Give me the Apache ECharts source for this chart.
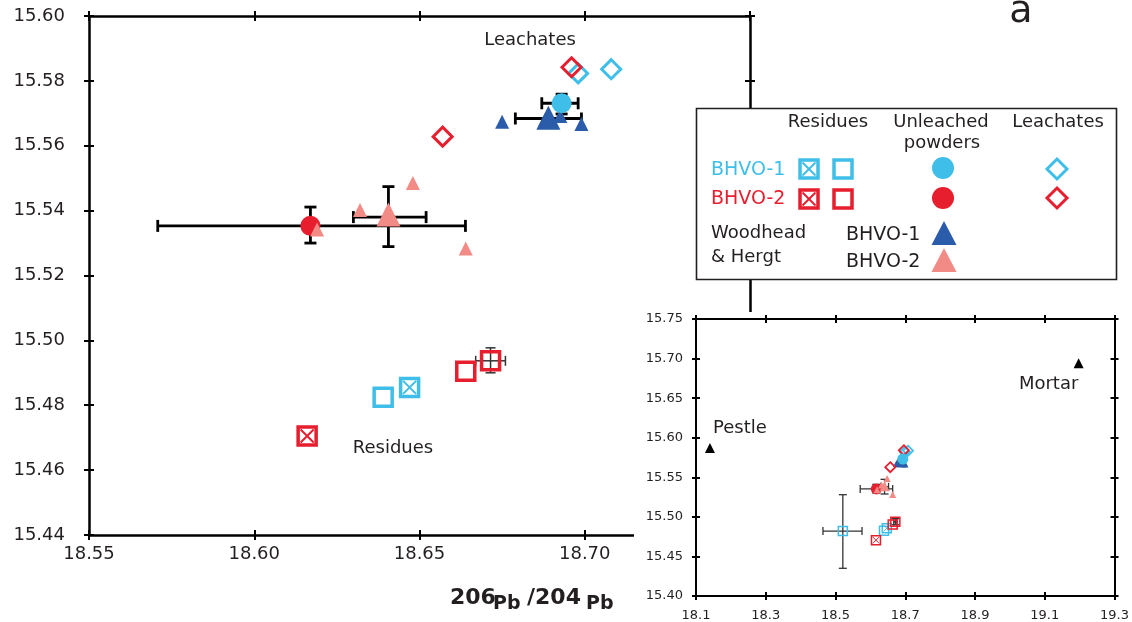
<!DOCTYPE html>
<html><head><meta charset="utf-8">
<script src="https://cdn.jsdelivr.net/npm/echarts@6/dist/echarts.min.js"></script>
<style>html,body{margin:0;padding:0;background:#fff}#c{width:1132px;height:622px}</style>
</head><body><div id="c"></div>
<script>
// ---------- data (x = 206Pb/204Pb, y = 207Pb/204Pb) ----------
const residuesBHVO1Crossed = [[18.647, 15.4855]];
const residuesBHVO1Open    = [[18.639, 15.4825], [18.521, 15.482]];
const residuesBHVO2Crossed = [[18.616, 15.4705]];
const residuesBHVO2Open    = [[18.664, 15.4905], [18.6715, 15.4937]];
const unleachedBHVO1 = [[18.693, 15.5731]];
const unleachedBHVO2 = [[18.617, 15.5353]];
const leachatesBHVO1 = [[18.698, 15.5823], [18.708, 15.5836]];
const leachatesBHVO2 = [[18.696, 15.5842], [18.657, 15.5628]];
const woodheadBHVO1      = [[18.675, 15.5674], [18.688, 15.5680], [18.6926, 15.5692], [18.699, 15.5667]];
const woodheadBHVO1Mean  = [[18.689, 15.5686]];
const woodheadBHVO2      = [[18.619, 15.5342], [18.632, 15.5402], [18.648, 15.5485], [18.664, 15.5283]];
const woodheadBHVO2Mean  = [[18.6406, 15.5388]];
const pestleMortar = [[18.140, 15.587, 'Pestle'], [19.197, 15.694, 'Mortar']];
// [x, y, xLow, xHigh, yLow, yHigh]
const errorBarsMeans = [
  [18.617, 15.5353, 18.5708, 18.6639, 15.5300, 15.5411],
  [18.693, 15.5731, 18.687, 18.698, 15.5698, 15.5759],
  [18.689, 15.5684, 18.679, 18.699, 15.5684, 15.5684],
  [18.6406, 15.5380, 18.630, 18.652, 15.5289, 15.5474]
];
const errorBarsResidues = [
  [18.6715, 15.4937, 18.667, 18.676, 15.4900, 15.4977],
  [18.521, 15.482, 18.464, 18.576, 15.435, 15.528]
];
const mainXTicks  = [18.55, 18.60, 18.65, 18.70, 18.75];
const mainYTicks  = [15.44, 15.46, 15.48, 15.50, 15.52, 15.54, 15.56, 15.58, 15.60];
const insetXTicks = [18.1, 18.3, 18.5, 18.7, 18.9, 19.1, 19.3];
const insetYTicks = [15.40, 15.45, 15.50, 15.55, 15.60, 15.65, 15.70, 15.75];

// ---------- styling ----------
const CYAN = '#3ebee8', RED = '#e61e2d', BLUE = '#2a5caa', PINK = '#f28a86';
const TXT = '#231f20', FONT = 'DejaVu Sans';

function axesFor(dim, grid, ticks, fmt, lw, tl, fs, margin, zl) {
  const pos = dim === 'x' ? ['bottom', 'top'] : ['left', 'right'];
  const min = ticks[0], max = ticks[ticks.length - 1];
  const out = [];
  pos.forEach((p, i) => {
    out.push({
      type: 'value', gridIndex: grid, min, max, position: p, zlevel: zl,
      splitLine: { show: false },
      axisLine: { show: true, onZero: false, lineStyle: { color: '#000', width: lw } },
      axisTick: { show: true, inside: false, length: tl, customValues: ticks, lineStyle: { color: '#000', width: 2 } },
      axisLabel: { show: i === 0, customValues: ticks, formatter: fmt, fontFamily: FONT, fontSize: fs, color: TXT, margin }
    });
    out.push({
      type: 'value', gridIndex: grid, min, max, position: p, zlevel: zl,
      splitLine: { show: false },
      axisLine: { show: false, onZero: false },
      axisTick: { show: true, inside: true, length: tl, customValues: ticks, lineStyle: { color: '#000', width: 2 } },
      axisLabel: { show: false }
    });
  });
  return out;
}

const xAxis = axesFor('x', 0, mainXTicks, v => v.toFixed(2), 2.5, 5, 18, 10, 0)
  .concat(axesFor('x', 1, insetXTicks, v => v.toFixed(1), 2, 4, 13, 13, 2));
const yAxis = axesFor('y', 0, mainYTicks, v => v.toFixed(2), 2.5, 5, 18, 24, 0)
  .concat(axesFor('y', 1, insetYTicks, v => v.toFixed(2), 2, 4, 13, 13, 2));

function L(x1, y1, x2, y2, st) { return { type: 'line', shape: { x1, y1, x2, y2 }, style: st }; }
function errSeries(data, g, lw, cap, color) {
  return {
    type: 'custom', xAxisIndex: g * 4, yAxisIndex: g * 4, zlevel: g ? 2 : 0, z: 1, clip: true, silent: true,
    data, encode: { x: 0, y: 1 },
    renderItem: (params, api) => {
      const y = api.value(1), x = api.value(0);
      const xlo = api.value(2), xhi = api.value(3), ylo = api.value(4), yhi = api.value(5);
      const st = { stroke: color, lineWidth: lw, fill: null };
      const ch = [];
      if (xlo !== xhi) {
        const a = api.coord([xlo, y]), b = api.coord([xhi, y]);
        ch.push(L(a[0], a[1], b[0], b[1], st), L(a[0], a[1] - cap, a[0], a[1] + cap, st), L(b[0], b[1] - cap, b[0], b[1] + cap, st));
      }
      if (ylo !== yhi) {
        const a = api.coord([x, ylo]), b = api.coord([x, yhi]);
        ch.push(L(a[0], a[1], b[0], b[1], st), L(a[0] - cap, a[1], a[0] + cap, a[1], st), L(b[0] - cap, b[1], b[0] + cap, b[1], st));
      }
      return { type: 'group', children: ch };
    }
  };
}

const X_PATH = 'path://M0,0L10,10M10,0L0,10';
const series = [];
[0, 1].forEach(g => {
  const m = g === 0;
  const S = o => {
    o.itemStyle = Object.assign({ opacity: 1 }, o.itemStyle);
    series.push(Object.assign({ type: 'scatter', xAxisIndex: g * 4, yAxisIndex: g * 4, zlevel: m ? 0 : 2, silent: true, clip: true }, o));
  };
  const sq = m ? 18 : 9, sqw = m ? 3.5 : 1.5, xs = m ? 13 : 6.5, xw = m ? 2 : 1;
  // error bars
  series.push(errSeries(m ? errorBarsMeans.filter(e => e[0] >= 18.55) : errorBarsMeans, g, m ? 2.8 : 1.3, m ? 6 : 4, m ? '#000' : '#333'));
  series.push(errSeries(m ? errorBarsResidues.filter(e => e[0] >= 18.55) : errorBarsResidues, g, m ? 1.5 : 1.3, m ? 5 : 4, '#333'));
  // residues
  const hollow = 'rgba(255,255,255,0)';
  S({ data: residuesBHVO1Open, symbol: 'rect', symbolSize: sq, z: 3, itemStyle: { color: hollow, borderColor: CYAN, borderWidth: sqw } });
  S({ data: residuesBHVO1Crossed, symbol: 'rect', symbolSize: sq, z: 3, itemStyle: { color: hollow, borderColor: CYAN, borderWidth: sqw } });
  S({ data: residuesBHVO1Crossed, symbol: X_PATH, symbolSize: xs, z: 3, itemStyle: { color: 'none', borderColor: CYAN, borderWidth: xw } });
  S({ data: residuesBHVO2Open, symbol: 'rect', symbolSize: sq, z: 4, itemStyle: { color: hollow, borderColor: RED, borderWidth: sqw } });
  S({ data: residuesBHVO2Crossed, symbol: 'rect', symbolSize: sq, z: 4, itemStyle: { color: hollow, borderColor: RED, borderWidth: sqw } });
  S({ data: residuesBHVO2Crossed, symbol: X_PATH, symbolSize: xs, z: 4, itemStyle: { color: 'none', borderColor: RED, borderWidth: xw } });
  // leachates
  S({ data: leachatesBHVO1, symbol: 'diamond', symbolSize: m ? 19 : 10, z: 3, itemStyle: { color: hollow, borderColor: CYAN, borderWidth: m ? 3 : 1.8 } });
  S({ data: leachatesBHVO2, symbol: 'diamond', symbolSize: m ? 19 : 10, z: 4, itemStyle: { color: hollow, borderColor: RED, borderWidth: m ? 3 : 1.8 } });
  // Woodhead & Hergt BHVO-1 and unleached BHVO-1
  S({ data: woodheadBHVO1, symbol: 'triangle', symbolSize: m ? 14 : 7, z: 3, itemStyle: { color: BLUE } });
  S({ data: woodheadBHVO1Mean, symbol: 'triangle', symbolSize: m ? 24 : 10, z: 3, itemStyle: { color: BLUE } });
  S({ data: unleachedBHVO1, symbol: 'circle', symbolSize: m ? 20 : 11, z: 4, itemStyle: { color: CYAN } });
  // unleached BHVO-2 and Woodhead & Hergt BHVO-2
  S({ data: unleachedBHVO2, symbol: 'circle', symbolSize: m ? 20 : 11, z: 3, itemStyle: { color: RED } });
  S({ data: woodheadBHVO2, symbol: 'triangle', symbolSize: m ? 14 : 7, z: 4, itemStyle: { color: PINK } });
  S({ data: woodheadBHVO2Mean, symbol: 'triangle', symbolSize: m ? 24 : 10, z: 4, itemStyle: { color: PINK } });
  if (!m) {
    S({
      data: pestleMortar.map((d, i) => ({
        value: [d[0], d[1]],
        label: { show: true, formatter: d[2], position: 'inside', offset: i === 0 ? [30, -20] : [-30, 21],
          fontFamily: FONT, fontSize: 18, color: TXT, opacity: 1 }
      })),
      symbol: 'triangle', symbolSize: 10, z: 5, itemStyle: { color: '#000' }
    });
  }
});

// ---------- graphic overlays (legend, inset background, annotations) ----------
function T(text, x, y, o, zl) {
  return { type: 'text', zlevel: zl === undefined ? 1 : zl, z: 20, x, y,
    style: Object.assign({ text, fontFamily: FONT, fontSize: 18, fill: TXT, align: 'center', verticalAlign: 'middle' }, o || {}) };
}
function gSq(cx, cy, color, crossed) {
  const s = 18, els = [{ type: 'rect', zlevel: 1, z: 20, shape: { x: cx - s / 2, y: cy - s / 2, width: s, height: s }, style: { fill: 'none', stroke: color, lineWidth: 3.5 } }];
  if (crossed) {
    const h = 6.5, st = { stroke: color, lineWidth: 2 };
    els.push({ type: 'line', zlevel: 1, z: 20, shape: { x1: cx - h, y1: cy - h, x2: cx + h, y2: cy + h }, style: st });
    els.push({ type: 'line', zlevel: 1, z: 20, shape: { x1: cx + h, y1: cy - h, x2: cx - h, y2: cy + h }, style: st });
  }
  return els;
}
function gCirc(cx, cy, color) { return { type: 'circle', zlevel: 1, z: 20, shape: { cx, cy, r: 11 }, style: { fill: color } }; }
function gDia(cx, cy, color) {
  const r = 10;
  return { type: 'polygon', zlevel: 1, z: 20, shape: { points: [[cx, cy - r], [cx + r, cy], [cx, cy + r], [cx - r, cy]] }, style: { fill: 'none', stroke: color, lineWidth: 3 } };
}
function gTri(cx, cy, color) {
  return { type: 'polygon', zlevel: 1, z: 20, shape: { points: [[cx, cy - 12], [cx + 12.5, cy + 12], [cx - 12.5, cy + 12]] }, style: { fill: color } };
}

const elements = [
  { type: 'rect', zlevel: 1, z: 0, shape: { x: 634, y: 312, width: 498, height: 310 }, style: { fill: '#fff' } },
  { type: 'rect', zlevel: 1, z: 1, shape: { x: 696.5, y: 108.5, width: 420, height: 171 }, style: { fill: '#fff', stroke: '#231f20', lineWidth: 1.6 } },
  T('Residues', 828, 122), T('Unleached', 941, 122), T('powders', 942, 143), T('Leachates', 1058, 122),
  T('BHVO-1', 711, 170, { fill: CYAN, align: 'left', fontSize: 19 }),
  T('BHVO-2', 711, 199, { fill: RED, align: 'left', fontSize: 19 }),
  T('Woodhead', 711, 233, { align: 'left' }), T('& Hergt', 711, 257, { align: 'left' }),
  T('BHVO-1', 846, 235, { align: 'left', fontSize: 19 }), T('BHVO-2', 846, 262, { align: 'left', fontSize: 19 }),
  ...gSq(809, 169, CYAN, true), ...gSq(843, 169, CYAN, false),
  ...gSq(809, 199, RED, true), ...gSq(843, 199, RED, false),
  gCirc(943, 168, CYAN), gCirc(943, 198, RED),
  gDia(1057, 169, CYAN), gDia(1057, 198, RED),
  gTri(944, 233, BLUE), gTri(944, 260, PINK),
  T('Leachates', 530, 40, {}, 0), T('Residues', 393, 448, {}, 0),
  T('a', 1021, 12, { fontSize: 38 }, 0),
  T('206', 450, 598, { align: 'left', fontSize: 22, fontWeight: 'bold' }, 0),
  T('Pb', 493, 604, { align: 'left', fontSize: 19, fontWeight: 'bold' }, 0),
  T('/204', 527, 598, { align: 'left', fontSize: 22, fontWeight: 'bold' }, 0),
  T('Pb', 586, 604, { align: 'left', fontSize: 19, fontWeight: 'bold' }, 0)
];

const chart = echarts.init(document.getElementById('c'));
chart.setOption({
  animation: false,
  backgroundColor: '#fff',
  grid: [
    { left: 89, right: 382, top: 16, bottom: 87, containLabel: false },
    { left: 696, right: 17, top: 319, bottom: 24, containLabel: false }
  ],
  xAxis, yAxis, series,
  graphic: { elements }
});
</script>
</body></html>
